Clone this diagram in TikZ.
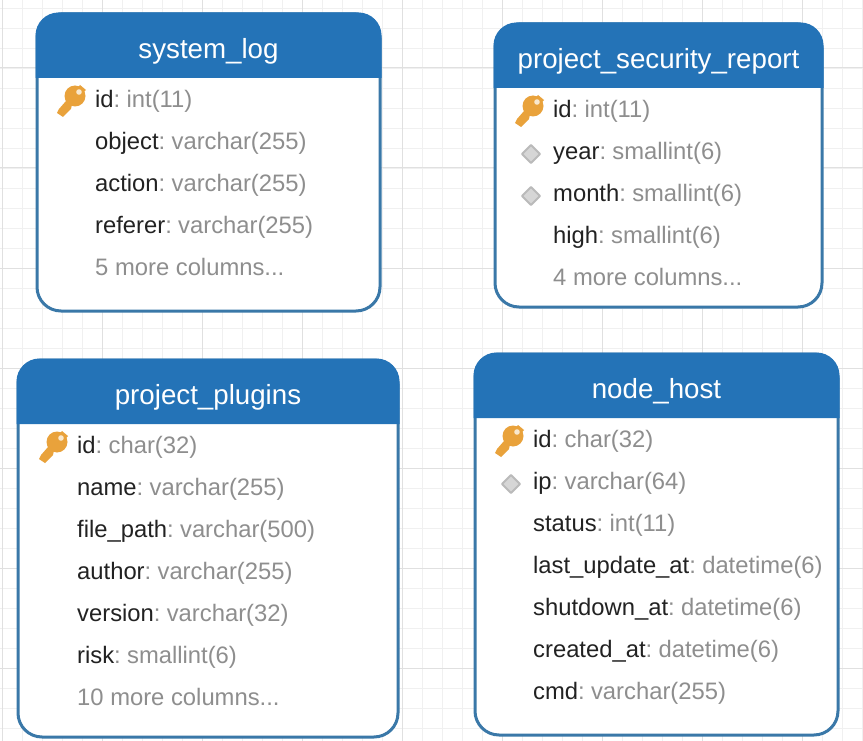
\documentclass[tikz,border=0pt]{standalone}
\usepackage{fontspec}
\setmainfont{Liberation Sans}
\definecolor{headblue}{HTML}{2473B7}
\definecolor{edgeblue}{HTML}{3A78A8}
\definecolor{typegrey}{HTML}{8E8E8E}
\definecolor{rowblack}{HTML}{222222}
\definecolor{keyorange}{HTML}{E9A23B}
\tikzset{
	tablebody/.style={fill=white, draw=edgeblue, line width=3pt, rounded corners=24pt},
	tablehead/.style={fill=headblue, rounded corners=23pt},
	tabletitle/.style={text=white, font=\fontsize{27.7}{32}\selectfont},
	tablerow/.style={anchor=base west, inner sep=0pt, text=rowblack, font=\fontsize{23.8}{28}\selectfont},
	morerow/.style={tablerow, text=typegrey},
	gridminor/.style={draw=black!6, line width=.8pt},
	gridmajor/.style={draw=black!12, line width=1pt}
}
% #1 = left, #2 = top, #3 = right, #4 = bottom, #5 = title
\newcommand{\tablebox}[6]{
	\draw[tablebody] (#1,#2) rectangle (#3,#4);
	\fill[tablehead] (#1-1.5,#2+64) -- (#1-1.5,#2-1.5) -- (#3+1.5,#2-1.5) -- (#3+1.5,#2+64);
	\node[tabletitle] (#6) at ({(#1+#3)/2},#2+37) {#5};
}
\newcommand{\keyicon}[1]{
	\begin{scope}[shift={(#1)}]
		\fill[keyorange, line join=round] (-9,-9) -- (-23,5) -- (-24,10) -- (-28,14) -- (-32,18) -- (-38,14) -- (-36,10) -- (-15,-14) -- cycle;
		\fill[keyorange] (-20,-3) circle (10.5);
		\fill[white!75!keyorange] (-16,-7) circle (2.8);
	\end{scope}
}
\newcommand{\indexicon}[1]{
	\fill[black!16, draw=black!27, line width=2pt, line join=round, shift={(#1)}] (-22,-6) -- (-13,3) -- (-22,12) -- (-31,3) -- cycle;
}
\newcommand{\coltext}[2]{#1\textcolor{typegrey}{:\hspace{-2.5pt} #2}}
\begin{document}
\begin{tikzpicture}[x=1pt, y=-1pt]
	\useasboundingbox (0,0) rectangle (863,741);
	\fill[white] (0,0) rectangle (863,741);
	% lưới nền
	\foreach \gx in {2,22,...,862} \draw[gridminor] (\gx,0)--(\gx,741);
	\foreach \gy in {8,28,...,728} \draw[gridminor] (0,\gy)--(863,\gy);
	\foreach \gx in {2,102,...,802} \draw[gridmajor] (\gx,0)--(\gx,741);
	\foreach \gy in {68,168,...,668} \draw[gridmajor] (0,\gy)--(863,\gy);
	% system_log
	\tablebox{37}{14}{380}{311}{system\_log}{syslog}
	\foreach \col/\coltype [count=\i from 0] in {id/int(11),object/varchar(255),action/varchar(255),referer/varchar(255)}
		\node[tablerow] (syslog-\i) at (95,{107.5+42*\i}) {\coltext{\col}{\coltype}};
	\node[morerow] (syslog-more) at (95,275) {5 more columns...};
	\keyicon{95,99}
	% project_security_report
	\tablebox{495}{24}{822}{307}{project\_security\_report}{secreport}
	\foreach \col/\coltype [count=\i from 0] in {id/int(11),year/smallint(6),month/smallint(6),high/smallint(6)}
		\node[tablerow] (secreport-\i) at (553,{117.5+42*\i}) {\coltext{\col}{\coltype}};
	\node[morerow] (secreport-more) at (553,285) {4 more columns...};
	\keyicon{553,109}
	\indexicon{553,151}
	\indexicon{553,193}
	% project_plugins
	\tablebox{18}{360}{398}{737}{project\_plugins}{plugins}
	\foreach \col/\coltype [count=\i from 0] in {id/char(32),name/varchar(255),file\_path/varchar(500),author/varchar(255),version/varchar(32),risk/smallint(6)}
		\node[tablerow] (plugins-\i) at (77,{453.5+42*\i}) {\coltext{\col}{\coltype}};
	\node[morerow] (plugins-more) at (77,705) {10 more columns...};
	\keyicon{77,445}
	% node_host
	\tablebox{475}{354}{838}{735}{node\_host}{nodehost}
	\foreach \col/\coltype [count=\i from 0] in {id/char(32),ip/varchar(64),status/int(11),last\_update\_at/datetime(6),shutdown\_at/datetime(6),created\_at/datetime(6),cmd/varchar(255)}
		\node[tablerow] (nodehost-\i) at (533,{447.5+42*\i}) {\coltext{\col}{\coltype}};
	\keyicon{533,439}
	\indexicon{533,481}
\end{tikzpicture}
\end{document}
